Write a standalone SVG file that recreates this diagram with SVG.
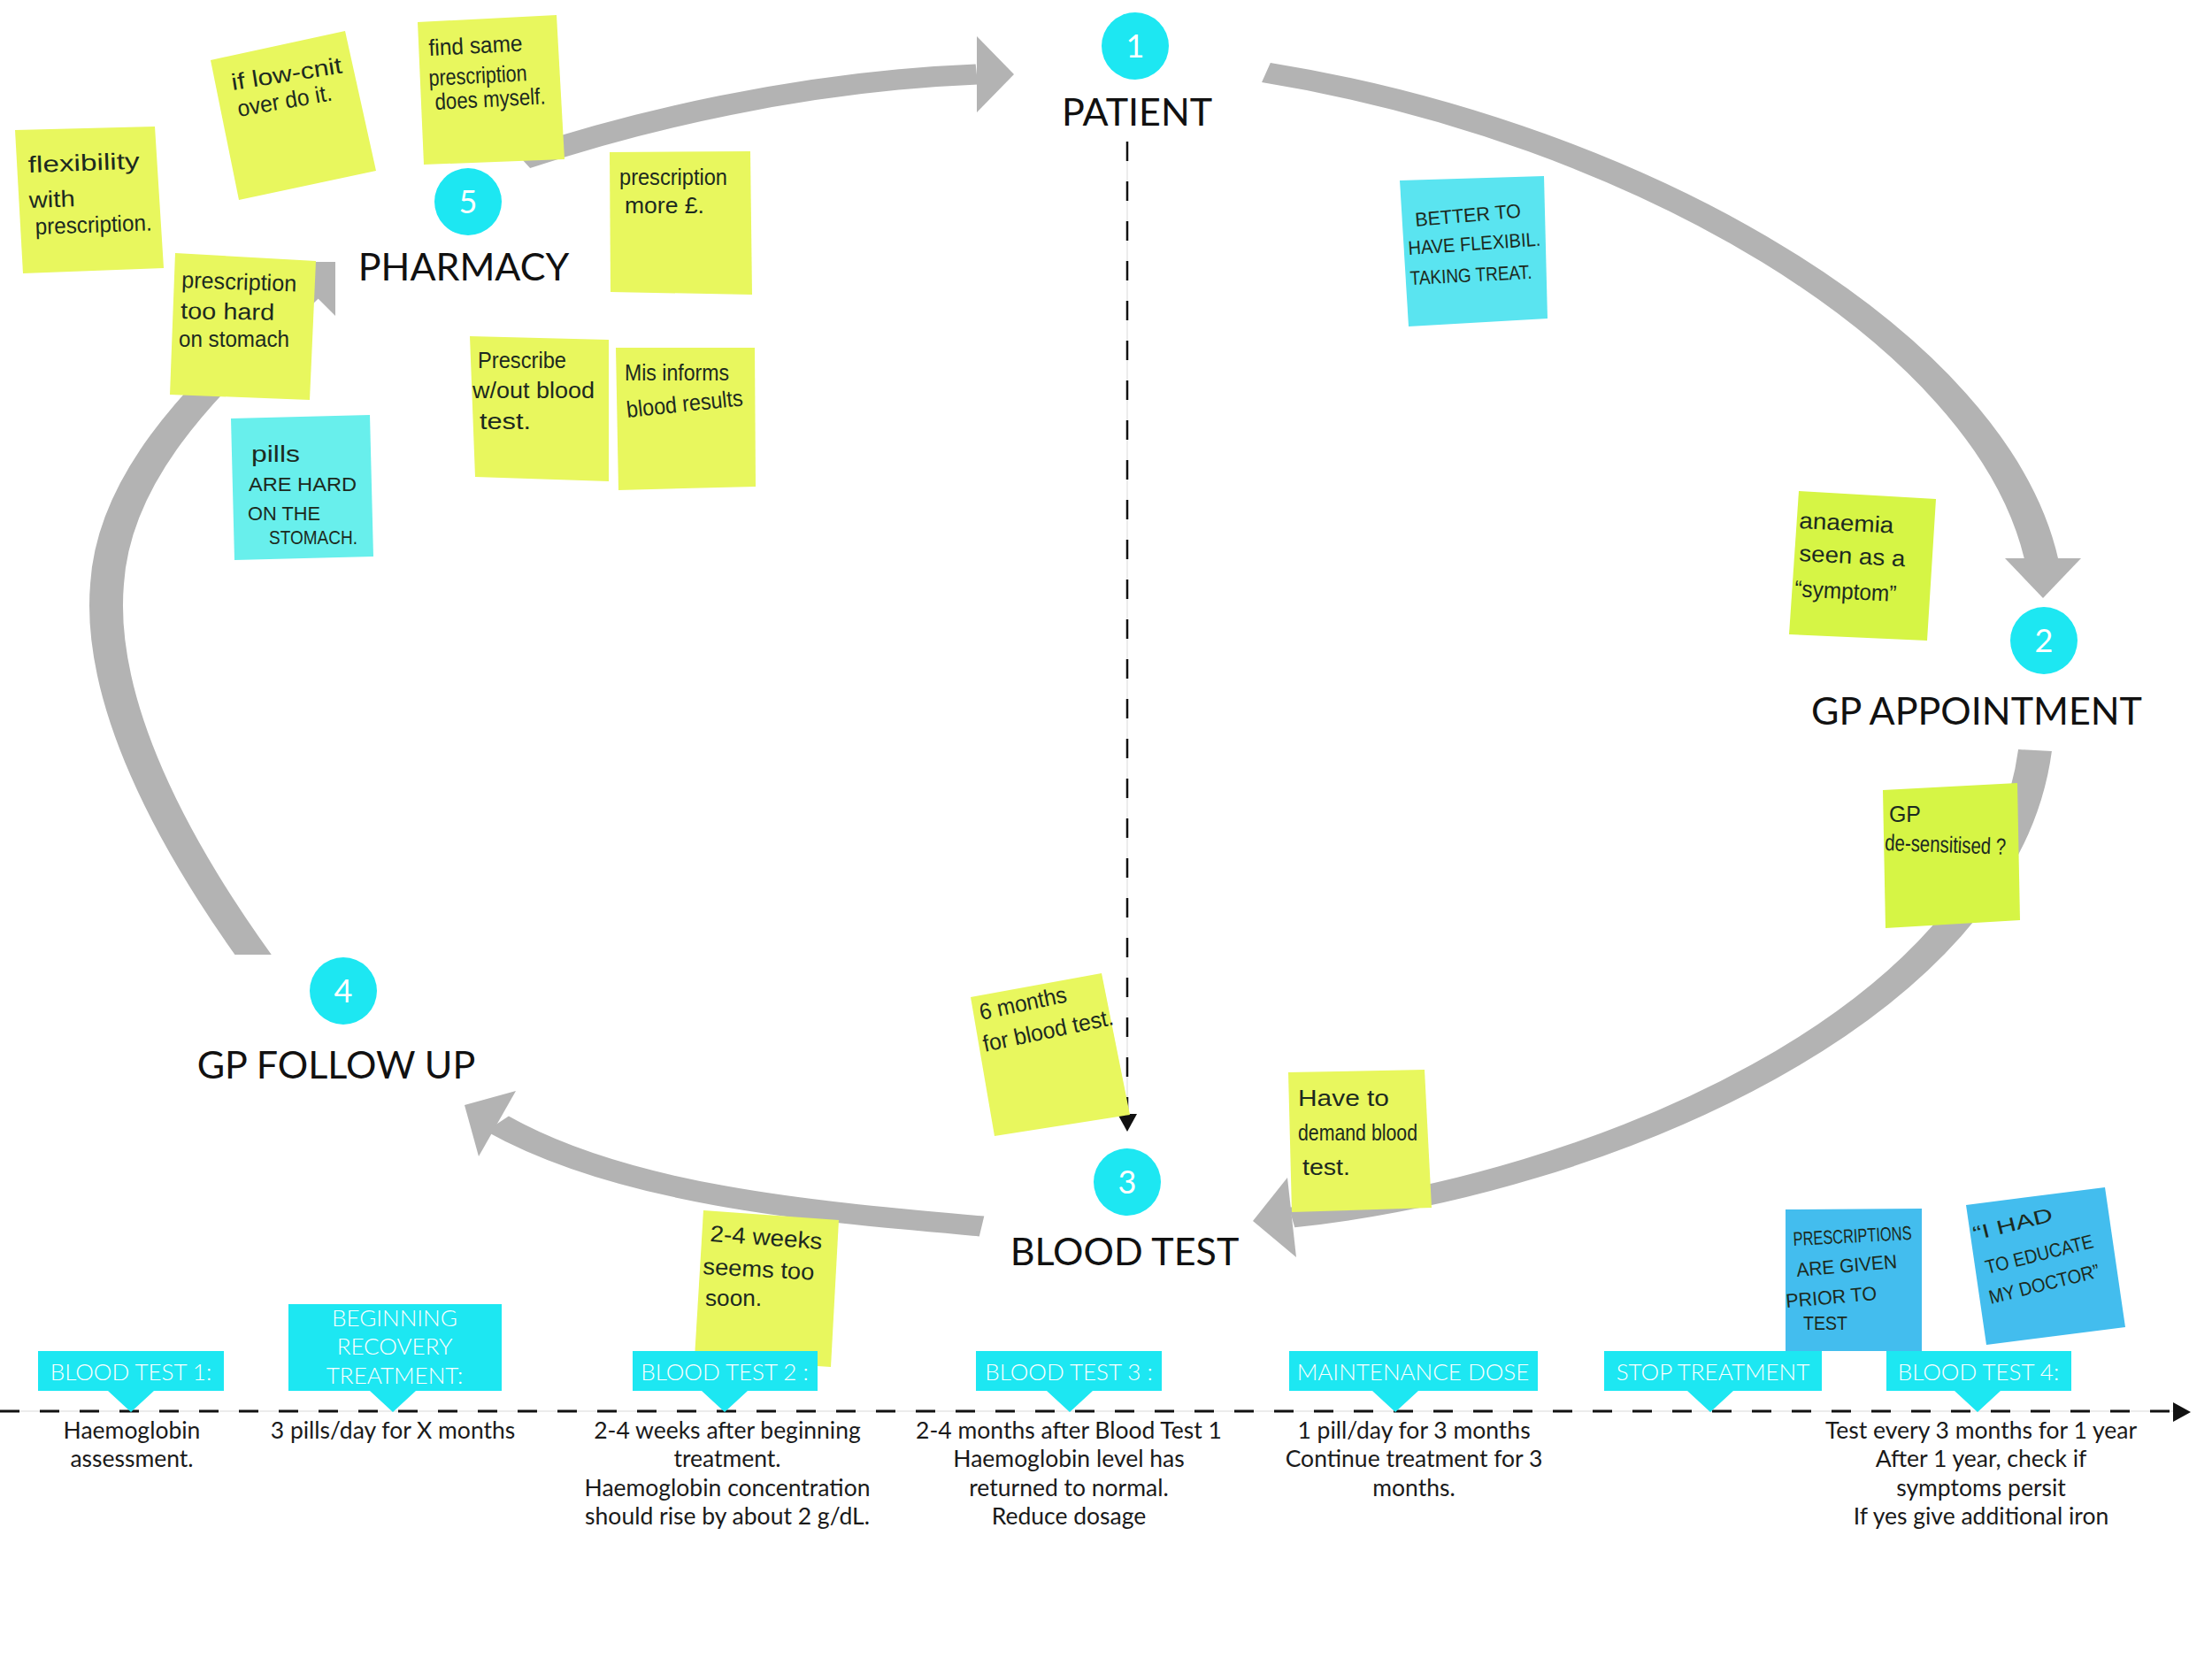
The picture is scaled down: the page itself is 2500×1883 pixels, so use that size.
<svg xmlns="http://www.w3.org/2000/svg" width="2500" height="1883" viewBox="0 0 2500 1883">
<style>
.arc{fill:none;stroke:#b3b3b3;stroke-width:23;stroke-linecap:butt}
.ah{fill:#b3b3b3}
.dash{fill:none;stroke:#111;stroke-width:3;stroke-dasharray:22 23}
.faint{stroke:#e6e6e6;stroke-width:1.5;fill:none}
.circ{fill:#1de7f2}
.num{font-family:Lato,'Liberation Sans',sans-serif;font-size:36px;fill:#fff;text-anchor:middle}
.big{font-family:Lato,'Liberation Sans',sans-serif;font-size:43px;fill:#111;text-anchor:middle}
.tag{fill:#1de7f2}
.tagt{font-family:Lato,'Liberation Sans',sans-serif;font-size:26px;font-weight:300;fill:#fff;text-anchor:middle}
.body{font-family:Lato,'Liberation Sans',sans-serif;font-size:26.5px;fill:#1a1a1a;text-anchor:middle}
.yel{fill:#e8f75e}
.grn{fill:#d6f545}
.cyn{fill:#68efec}
.cy2{fill:#5ae4f0}
.blu{fill:#43bdee}
.hw{font-family:'Liberation Sans',sans-serif;font-size:26px;fill:#1c2a20}
</style>
<defs>
<clipPath id="clipE"><path d="M0,0 H2500 V1883 H420 V1079 H0 Z"/></clipPath>
</defs>

<g id="connectors">
  <g clip-path="url(#clipE)">
    <g transform="matrix(1.65 0 0 1 -787.8 0)">
      <path class="arc" d="M835,180 C911,138 1025,92 1146.5,84"/>
      <path class="arc" d="M1344.7,82 C1598.7,150 1841.3,380 1876,634"/>
      <path class="arc" d="M1871.4,848 C1847.2,1150 1568.4,1340 1362.3,1376"/>
      <path class="arc" d="M1149.9,1386 C1041.1,1370 907.8,1353 818.1,1270"/>
      <path class="arc" d="M662.3,1105 C592.6,950 544.1,790 550.8,660 C556.2,520 635,415 688.7,326.5"/>
    </g>
  </g>
  <polygon class="ah" points="1104,41 1146,84 1104,127"/>
  <polygon class="ah" points="2266,631 2352,631 2309,676"/>
  <polygon class="ah" points="1455,1331 1416,1380 1465,1421"/>
  <polygon class="ah" points="583,1233 525,1249 541,1307"/>
  <polygon class="ah" points="318,296 379,296 379,357"/>
  <line class="faint" x1="1274" y1="160" x2="1274" y2="1259"/>
  <line class="dash" x1="1274" y1="160" x2="1274" y2="1259" style="stroke-width:2.5"/>
  <polygon points="1263,1259 1285,1259 1274,1279" fill="#111"/>
  <line class="faint" x1="0" y1="1595" x2="2456" y2="1595"/>
  <line class="dash" x1="0" y1="1595" x2="2456" y2="1595"/>
  <polygon points="2456,1585 2476,1596 2456,1607" fill="#111"/>
</g>

<g id="node-patient">
  <circle class="circ" cx="1283" cy="52" r="38"/>
  <text class="num" x="1283" y="65">1</text>
  <text class="big" x="1285" y="142">PATIENT</text>
</g>
<g id="node-gp-appointment">
  <circle class="circ" cx="2310" cy="724" r="38"/>
  <text class="num" x="2310" y="737">2</text>
  <text class="big" x="2234" y="819">GP APPOINTMENT</text>
</g>
<g id="node-blood-test">
  <circle class="circ" cx="1274" cy="1336" r="38"/>
  <text class="num" x="1274" y="1349">3</text>
  <text class="big" x="1271" y="1430">BLOOD TEST</text>
</g>
<g id="node-gp-follow-up">
  <circle class="circ" cx="388" cy="1120" r="38"/>
  <text class="num" x="388" y="1133">4</text>
  <text class="big" x="380" y="1219">GP FOLLOW UP</text>
</g>
<g id="node-pharmacy">
  <circle class="circ" cx="529" cy="228" r="38"/>
  <text class="num" x="529" y="241">5</text>
  <text class="big" x="524" y="317">PHARMACY</text>
</g>

<g id="note-flexibility">
  <polygon class="yel" points="17,147 175,143 185,303 26,309"/>
  <text class="hw" x="32" y="195" textLength="126" lengthAdjust="spacingAndGlyphs" transform="rotate(-2 32 195)">flexibility</text>
  <text class="hw" x="33" y="235" textLength="52" lengthAdjust="spacingAndGlyphs" transform="rotate(-2 33 235)">with</text>
  <text class="hw" x="40" y="265" textLength="132" lengthAdjust="spacingAndGlyphs" transform="rotate(-2 40 265)">prescription.</text>
</g>
<g id="note-low">
  <polygon class="yel" points="238,68 390,35 425,193 270,226"/>
  <text class="hw" x="263" y="102" textLength="126" lengthAdjust="spacingAndGlyphs" transform="rotate(-9 263 102)">if low-cnit</text>
  <text class="hw" x="270" y="132" textLength="108" lengthAdjust="spacingAndGlyphs" transform="rotate(-10 270 132)">over do it.</text>
</g>
<g id="note-find-same">
  <polygon class="yel" points="472,25 629,17 638,180 479,186"/>
  <text class="hw" x="485" y="63" textLength="106" lengthAdjust="spacingAndGlyphs" transform="rotate(-3 485 63)">find same</text>
  <text class="hw" x="485" y="97" textLength="111" lengthAdjust="spacingAndGlyphs" transform="rotate(-3 485 97)">prescription</text>
  <text class="hw" x="492" y="124" textLength="125" lengthAdjust="spacingAndGlyphs" transform="rotate(-3 492 124)">does myself.</text>
</g>
<g id="note-more-money">
  <polygon class="yel" points="689,172 848,171 850,333 690,330"/>
  <text class="hw" x="700" y="209" textLength="122" lengthAdjust="spacingAndGlyphs">prescription</text>
  <text class="hw" x="706" y="241" textLength="90" lengthAdjust="spacingAndGlyphs">more £.</text>
</g>
<g id="note-too-hard">
  <polygon class="yel" points="198,286 357,295 350,452 192,446"/>
  <text class="hw" x="205" y="325" textLength="130" lengthAdjust="spacingAndGlyphs" transform="rotate(2 205 325)">prescription</text>
  <text class="hw" x="204" y="360" textLength="106" lengthAdjust="spacingAndGlyphs" transform="rotate(1 204 360)">too hard</text>
  <text class="hw" x="202" y="392" textLength="125" lengthAdjust="spacingAndGlyphs">on stomach</text>
</g>
<g id="note-pills">
  <polygon class="cyn" points="261,473 418,469 422,629 265,633"/>
  <text class="hw" x="284" y="522" textLength="55" lengthAdjust="spacingAndGlyphs">pills</text>
  <text class="hw" x="281" y="555" textLength="122" lengthAdjust="spacingAndGlyphs" style="font-size:22px">ARE HARD</text>
  <text class="hw" x="280" y="588" textLength="82" lengthAdjust="spacingAndGlyphs" style="font-size:22px">ON THE</text>
  <text class="hw" x="304" y="615" textLength="100" lengthAdjust="spacingAndGlyphs" style="font-size:22px">STOMACH.</text>
</g>
<g id="note-prescribe">
  <polygon class="yel" points="531,380 688,384 688,544 537,539"/>
  <text class="hw" x="540" y="416" textLength="100" lengthAdjust="spacingAndGlyphs">Prescribe</text>
  <text class="hw" x="534" y="450" textLength="138" lengthAdjust="spacingAndGlyphs">w/out blood</text>
  <text class="hw" x="542" y="485" textLength="58" lengthAdjust="spacingAndGlyphs">test.</text>
</g>
<g id="note-misinforms">
  <polygon class="yel" points="696,393 853,393 854,550 699,554"/>
  <text class="hw" x="706" y="430" textLength="118" lengthAdjust="spacingAndGlyphs">Mis informs</text>
  <text class="hw" x="709" y="472" textLength="132" lengthAdjust="spacingAndGlyphs" transform="rotate(-6 709 472)">blood results</text>
</g>
<g id="note-better">
  <polygon class="cy2" points="1582,204 1745,199 1749,360 1592,369"/>
  <text class="hw" x="1600" y="256" textLength="120" lengthAdjust="spacingAndGlyphs" style="font-size:22px" transform="rotate(-5 1600 256)">BETTER TO</text>
  <text class="hw" x="1592" y="288" textLength="150" lengthAdjust="spacingAndGlyphs" style="font-size:22px" transform="rotate(-4 1592 288)">HAVE FLEXIBIL.</text>
  <text class="hw" x="1594" y="322" textLength="138" lengthAdjust="spacingAndGlyphs" style="font-size:22px" transform="rotate(-3 1594 322)">TAKING TREAT.</text>
</g>
<g id="note-anaemia">
  <polygon class="grn" points="2033,555 2188,564 2178,724 2022,717"/>
  <text class="hw" x="2033" y="597" textLength="107" lengthAdjust="spacingAndGlyphs" transform="rotate(3 2033 597)">anaemia</text>
  <text class="hw" x="2033" y="634" textLength="120" lengthAdjust="spacingAndGlyphs" transform="rotate(3 2033 634)">seen as a</text>
  <text class="hw" x="2028" y="674" textLength="115" lengthAdjust="spacingAndGlyphs" transform="rotate(3 2028 674)">“symptom”</text>
</g>
<g id="note-desensitised">
  <polygon class="grn" points="2128,893 2280,885 2283,1040 2131,1049"/>
  <text class="hw" x="2135" y="929" textLength="36" lengthAdjust="spacingAndGlyphs">GP</text>
  <text class="hw" x="2130" y="961" textLength="137" lengthAdjust="spacingAndGlyphs" transform="rotate(2 2130 961)">de-sensitised ?</text>
</g>
<g id="note-six-months">
  <polygon class="yel" points="1097,1127 1245,1100 1277,1260 1124,1284"/>
  <text class="hw" x="1109" y="1153" textLength="100" lengthAdjust="spacingAndGlyphs" transform="rotate(-12 1109 1153)">6 months</text>
  <text class="hw" x="1113" y="1189" textLength="150" lengthAdjust="spacingAndGlyphs" transform="rotate(-12 1113 1189)">for blood test.</text>
</g>
<g id="note-two-four-weeks">
  <polygon class="yel" points="795,1368 948,1379 939,1545 785,1535"/>
  <text class="hw" x="802" y="1403" textLength="127" lengthAdjust="spacingAndGlyphs" transform="rotate(4 802 1403)">2-4 weeks</text>
  <text class="hw" x="794" y="1440" textLength="126" lengthAdjust="spacingAndGlyphs" transform="rotate(3 794 1440)">seems too</text>
  <text class="hw" x="797" y="1476" textLength="64" lengthAdjust="spacingAndGlyphs">soon.</text>
</g>
<g id="note-demand">
  <polygon class="yel" points="1456,1212 1610,1209 1618,1365 1460,1370"/>
  <text class="hw" x="1467" y="1250" textLength="103" lengthAdjust="spacingAndGlyphs">Have to</text>
  <text class="hw" x="1467" y="1289" textLength="135" lengthAdjust="spacingAndGlyphs">demand blood</text>
  <text class="hw" x="1472" y="1328" textLength="54" lengthAdjust="spacingAndGlyphs">test.</text>
</g>
<g id="note-prior">
  <polygon class="blu" points="2018,1367 2172,1366 2172,1527 2018,1527"/>
  <text class="hw" x="2027" y="1408" textLength="134" lengthAdjust="spacingAndGlyphs" style="font-size:22px" transform="rotate(-3 2027 1408)">PRESCRIPTIONS</text>
  <text class="hw" x="2031" y="1443" textLength="114" lengthAdjust="spacingAndGlyphs" style="font-size:22px" transform="rotate(-5 2031 1443)">ARE GIVEN</text>
  <text class="hw" x="2019" y="1478" textLength="103" lengthAdjust="spacingAndGlyphs" style="font-size:22px" transform="rotate(-5 2019 1478)">PRIOR TO</text>
  <text class="hw" x="2038" y="1503" textLength="50" lengthAdjust="spacingAndGlyphs" style="font-size:22px">TEST</text>
</g>
<g id="note-educate">
  <polygon class="blu" points="2222,1362 2379,1342 2402,1500 2245,1520"/>
  <text class="hw" x="2232" y="1402" textLength="92" lengthAdjust="spacingAndGlyphs" style="font-size:22px" transform="rotate(-14 2232 1402)">“I HAD</text>
  <text class="hw" x="2246" y="1440" textLength="125" lengthAdjust="spacingAndGlyphs" style="font-size:22px" transform="rotate(-14 2246 1440)">TO EDUCATE</text>
  <text class="hw" x="2250" y="1474" textLength="128" lengthAdjust="spacingAndGlyphs" style="font-size:22px" transform="rotate(-14 2250 1474)">MY DOCTOR”</text>
</g>

<g id="tag-blood-test-1">
  <path class="tag" d="M43,1527 H253 V1572 H174 L148,1596 L122,1572 H43 Z"/>
  <text class="tagt" x="148" y="1560">BLOOD TEST 1:</text>
  <text class="body" x="149" y="1626">Haemoglobin</text>
  <text class="body" x="149" y="1658">assessment.</text>
</g>
<g id="tag-beginning">
  <path class="tag" d="M326,1474 H567 V1572 H470 L444,1596 L418,1572 H326 Z"/>
  <text class="tagt" x="446" y="1499">BEGINNING</text>
  <text class="tagt" x="446" y="1531">RECOVERY</text>
  <text class="tagt" x="446" y="1564">TREATMENT:</text>
  <text class="body" x="444" y="1626">3 pills/day for X months</text>
</g>
<g id="tag-blood-test-2">
  <path class="tag" d="M715,1527 H924 V1572 H845 L819,1596 L793,1572 H715 Z"/>
  <text class="tagt" x="819" y="1560">BLOOD TEST 2 :</text>
  <text class="body" x="822" y="1626">2-4 weeks after beginning</text>
  <text class="body" x="822" y="1658">treatment.</text>
  <text class="body" x="822" y="1691">Haemoglobin concentration</text>
  <text class="body" x="822" y="1723">should rise by about 2 g/dL.</text>
</g>
<g id="tag-blood-test-3">
  <path class="tag" d="M1103,1527 H1313 V1572 H1235 L1209,1596 L1183,1572 H1103 Z"/>
  <text class="tagt" x="1208" y="1560">BLOOD TEST 3 :</text>
  <text class="body" x="1208" y="1626">2-4 months after Blood Test 1</text>
  <text class="body" x="1208" y="1658">Haemoglobin level has</text>
  <text class="body" x="1208" y="1691">returned to normal.</text>
  <text class="body" x="1208" y="1723">Reduce dosage</text>
</g>
<g id="tag-maintenance">
  <path class="tag" d="M1457,1527 H1738 V1572 H1603 L1577,1596 L1551,1572 H1457 Z"/>
  <text class="tagt" x="1597" y="1560">MAINTENANCE DOSE</text>
  <text class="body" x="1598" y="1626">1 pill/day for 3 months</text>
  <text class="body" x="1598" y="1658">Continue treatment for 3</text>
  <text class="body" x="1598" y="1691">months.</text>
</g>
<g id="tag-stop">
  <path class="tag" d="M1813,1527 H2059 V1572 H1959 L1933,1596 L1907,1572 H1813 Z"/>
  <text class="tagt" x="1936" y="1560">STOP TREATMENT</text>
</g>
<g id="tag-blood-test-4">
  <path class="tag" d="M2132,1527 H2341 V1572 H2261 L2235,1596 L2209,1572 H2132 Z"/>
  <text class="tagt" x="2236" y="1560">BLOOD TEST 4:</text>
  <text class="body" x="2239" y="1626">Test every 3 months for 1 year</text>
  <text class="body" x="2239" y="1658">After 1 year, check if</text>
  <text class="body" x="2239" y="1691">symptoms persit</text>
  <text class="body" x="2239" y="1723">If yes give additional iron</text>
</g>
</svg>
